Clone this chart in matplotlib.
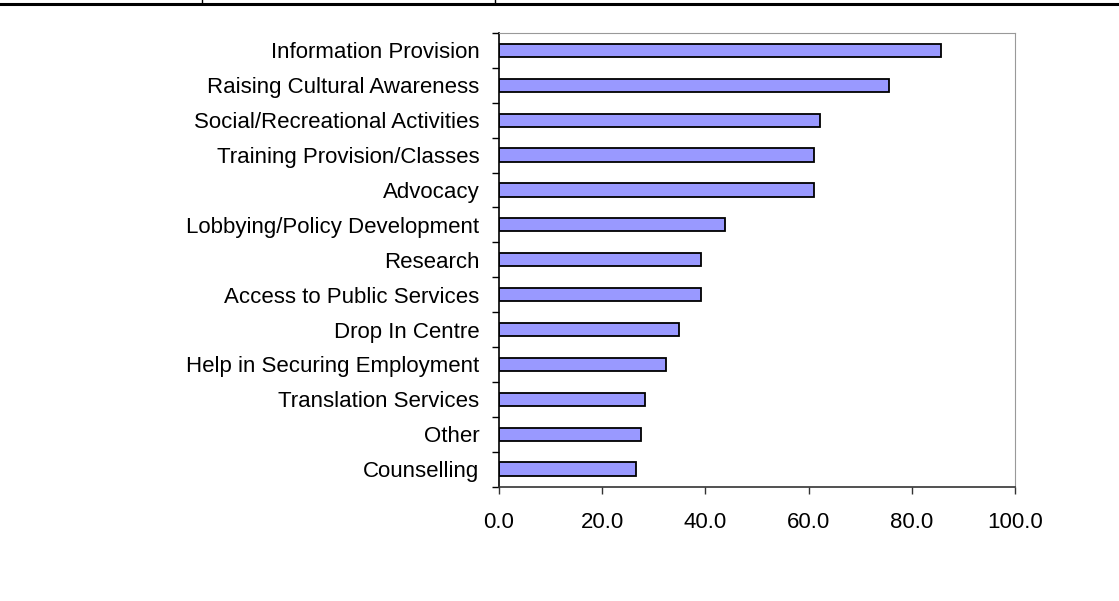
import matplotlib
matplotlib.use("Agg")
import matplotlib.pyplot as plt
from matplotlib.lines import Line2D
import numpy as np

categories = [
    "Information Provision",
    "Raising Cultural Awareness",
    "Social/Recreational Activities",
    "Training Provision/Classes",
    "Advocacy",
    "Lobbying/Policy Development",
    "Research",
    "Access to Public Services",
    "Drop In Centre",
    "Help in Securing Employment",
    "Translation Services",
    "Other",
    "Counselling",
]
values = [85.6, 75.5, 62.2, 61.1, 61.1, 43.8, 39.1, 39.1, 34.8, 32.3, 28.3, 27.5, 26.5]
xticks = [0, 20, 40, 60, 80, 100]
xtick_labels = ["0.0", "20.0", "40.0", "60.0", "80.0", "100.0"]

plt.rcParams['font.family'] = ['Liberation Sans', 'DejaVu Sans']

fig = plt.figure(figsize=(11.19, 6.01), dpi=100)
ax = fig.add_axes([499/1119, 114.5/601, 516/1119, 453.5/601])

n = len(categories)
ypos = np.arange(n)[::-1]
ax.barh(ypos, values, height=0.38, color="#9999FF", edgecolor="black", linewidth=1.3)

ax.set_xlim(0, 100)
ax.set_ylim(-0.5, n - 0.5)
ax.set_xticks(xticks)
ax.set_xticklabels(xtick_labels, fontsize=16)
ax.set_yticks(ypos)
ax.set_yticklabels(categories, fontsize=16)
ax.set_yticks(np.arange(-0.5, n, 1.0), minor=True)
ax.tick_params(axis='y', which='major', length=0, pad=14)
ax.tick_params(axis='y', which='minor', length=5, width=1, color='black', direction='out')
ax.tick_params(axis='x', which='major', length=5, width=1, color='#333333', direction='out', pad=13)

ax.spines['left'].set_color('black')
ax.spines['left'].set_linewidth(1.2)
ax.spines['bottom'].set_color('#333333')
ax.spines['bottom'].set_linewidth(1.2)
ax.spines['top'].set_color('#999999')
ax.spines['right'].set_color('#999999')

# top rule across the figure (cut-off header)
fig.add_artist(Line2D([0, 1], [1 - 4/601, 1 - 4/601], color='black', linewidth=2.2, transform=fig.transFigure))
for xp in (202, 495):
    fig.add_artist(Line2D([xp/1119, xp/1119], [1 - 4/601, 1], color='black', linewidth=1.0, transform=fig.transFigure))

fig.savefig("out.png", dpi=100)
